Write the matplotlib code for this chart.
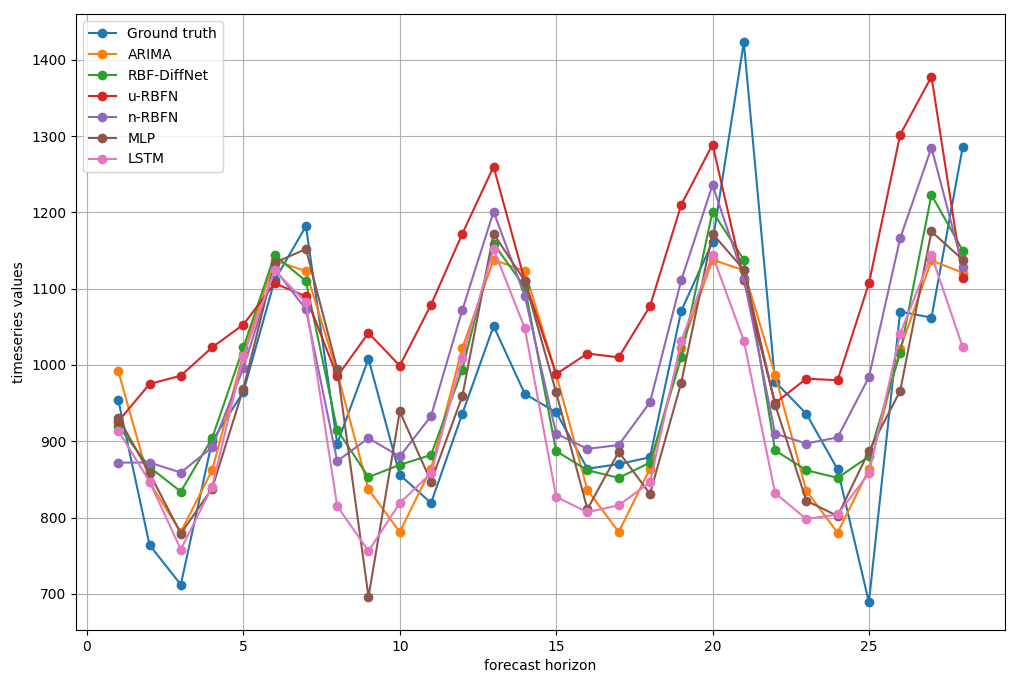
import matplotlib
matplotlib.use("Agg")
import matplotlib.pyplot as plt

horizon = list(range(1, 29))

ground_truth = [954, 764, 712, 900, 965, 1111, 1182, 897, 1008, 856, 819, 936, 1051, 962,
                938, 864, 870, 879, 1071, 1161, 1423, 978, 936, 863, 689, 1070, 1062, 1286]
arima = [992, 846, 781, 862, 1015, 1137, 1123, 990, 837, 781, 864, 1022, 1138, 1123,
         988, 836, 781, 864, 1022, 1138, 1124, 987, 835, 780, 863, 1021, 1137, 1121]
rbf_diffnet = [920, 866, 834, 904, 1023, 1144, 1110, 915, 853, 869, 882, 994, 1159, 1102,
               887, 862, 852, 872, 1010, 1201, 1138, 888, 862, 852, 880, 1016, 1223, 1150]
u_rbfn = [926, 975, 986, 1023, 1053, 1107, 1090, 985, 1042, 999, 1079, 1172, 1260, 1110,
          988, 1015, 1010, 1077, 1210, 1289, 1111, 950, 982, 980, 1107, 1302, 1378, 1114]
n_rbfn = [872, 872, 859, 892, 996, 1126, 1073, 874, 904, 880, 933, 1072, 1201, 1090,
          910, 890, 895, 951, 1111, 1236, 1114, 910, 897, 905, 984, 1166, 1285, 1129]
mlp = [931, 858, 779, 838, 969, 1134, 1152, 995, 696, 939, 847, 959, 1172, 1110,
       964, 811, 886, 831, 977, 1172, 1125, 948, 822, 802, 887, 966, 1175, 1138]
lstm = [914, 847, 758, 840, 1012, 1124, 1082, 815, 756, 819, 858, 1009, 1152, 1048,
        827, 807, 816, 846, 1031, 1144, 1032, 832, 798, 804, 858, 1041, 1144, 1023]

series_names = ["Ground truth", "ARIMA", "RBF-DiffNet", "u-RBFN", "n-RBFN", "MLP", "LSTM"]
series_values = [ground_truth, arima, rbf_diffnet, u_rbfn, n_rbfn, mlp, lstm]

fig = plt.figure(figsize=(10.18, 6.82), dpi=100)
ax = fig.add_axes([0.0747, 0.076, 0.9125, 0.903])

for name, vals in zip(series_names, series_values):
    ax.plot(horizon, vals, marker="o", label=name)

ax.set_xlabel("forecast horizon")
ax.set_ylabel("timeseries values")
ax.grid(True)
ax.legend(loc="upper left")

fig.savefig("out.png", dpi=100)
